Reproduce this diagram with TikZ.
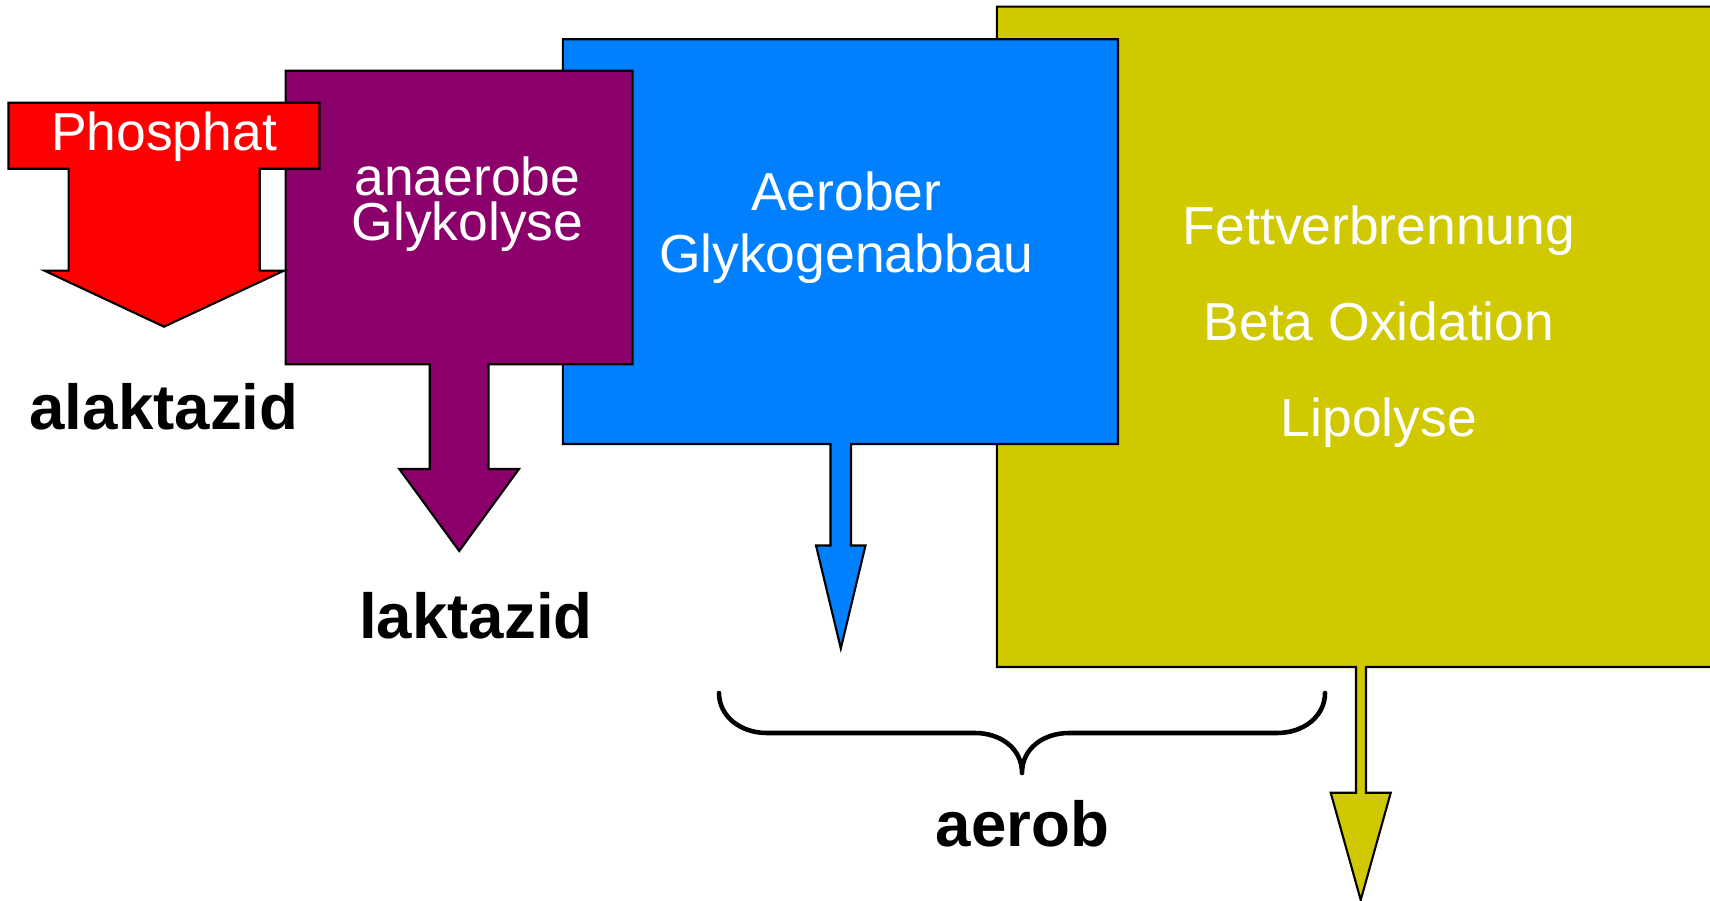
\documentclass[tikz,border=0pt]{standalone}
\usepackage{fontspec}
\setmainfont{Liberation Sans}
\definecolor{cred}{RGB}{255,0,0}
\definecolor{cpurple}{RGB}{139,0,107}
\definecolor{cblue}{RGB}{0,128,255}
\definecolor{cyellow}{RGB}{208,200,0}
\begin{document}
\begin{tikzpicture}[x=0.01cm,y=-0.01cm,
  blockshape/.style={draw=black,line width=0.6pt,line join=miter},
  wlabel/.style={text=white,font=\fontsize{15.2}{18}\selectfont,anchor=base,inner sep=0pt},
  blabel/.style={text=black,font=\fontsize{18.1}{21}\selectfont\bfseries,anchor=base,inner sep=0pt},
  bracestyle/.style={draw=black,line width=1.3pt,line cap=round,line join=round}]
\useasboundingbox (0,0) rectangle (1710,901);
\clip (0,0) rectangle (1710,901);

% yellow block (back)
\path[blockshape,fill=cyellow] (996.8,6.7) -- (1725,6.7) -- (1725,667) -- (1366,667) -- (1366,792.8)
  -- (1390.7,792.8) -- (1360.7,900) -- (1330.7,792.8) -- (1356,792.8) -- (1356,667) -- (996.8,667) -- cycle;
% blue block
\path[blockshape,fill=cblue] (562.8,39.3) -- (1118,39.3) -- (1118,444) -- (851,444) -- (851,545.5)
  -- (865.5,545.5) -- (840.8,648.5) -- (816,545.5) -- (830.5,545.5) -- (830.5,444) -- (562.8,444) -- cycle;
% purple block
\path[blockshape,fill=cpurple] (285.6,70.8) -- (632.6,70.8) -- (632.6,364.3) -- (488.6,364.3) -- (488.6,469)
  -- (519,469) -- (459.2,551) -- (399.3,469) -- (429.7,469) -- (429.7,364.3) -- (285.6,364.3) -- cycle;
% red block
\path[blockshape,fill=cred] (8.5,102.8) -- (319.5,102.8) -- (319.5,168.8) -- (259.7,168.8) -- (259.7,270.7)
  -- (284,270.7) -- (164,326.7) -- (44.5,270.7) -- (68.6,270.7) -- (68.6,168.8) -- (8.5,168.8) -- cycle;

% white labels
\node[wlabel] (phos) at (164,151) {Phosphat};
\node[wlabel] (ana1) at (467.5,196) {anaerobe};
\node[wlabel] (ana2) at (467.5,241) {Glykolyse};
\node[wlabel] (aer1) at (846.3,210.5) {Aerober};
\node[wlabel] (aer2) at (846.3,272.7) {Glykogenabbau};
\node[wlabel] (fett1) at (1379,244.3) {Fettverbrennung};
\node[wlabel] (fett2) at (1379,340.3) {Beta Oxidation};
\node[wlabel] (fett3) at (1379,436.2) {Lipolyse};

% black labels
\node[blabel] (alak) at (164,430) {alaktazid};
\node[blabel] (lak) at (476,639) {laktazid};
\node[blabel] (aerob) at (1022.5,846) {aerob};

% brace
\coordinate (brL) at (719,693);
\coordinate (brM) at (1022,773);
\coordinate (brR) at (1325,693);
\draw[bracestyle] (brL) .. controls (719,716) and (740,733) .. (767,733) -- (975,733)
  .. controls (1000,733) and (1022,748) .. (brM)
  .. controls (1022,748) and (1044,733) .. (1069,733) -- (1277,733)
  .. controls (1304,733) and (1325,716) .. (brR);
\end{tikzpicture}
\end{document}
